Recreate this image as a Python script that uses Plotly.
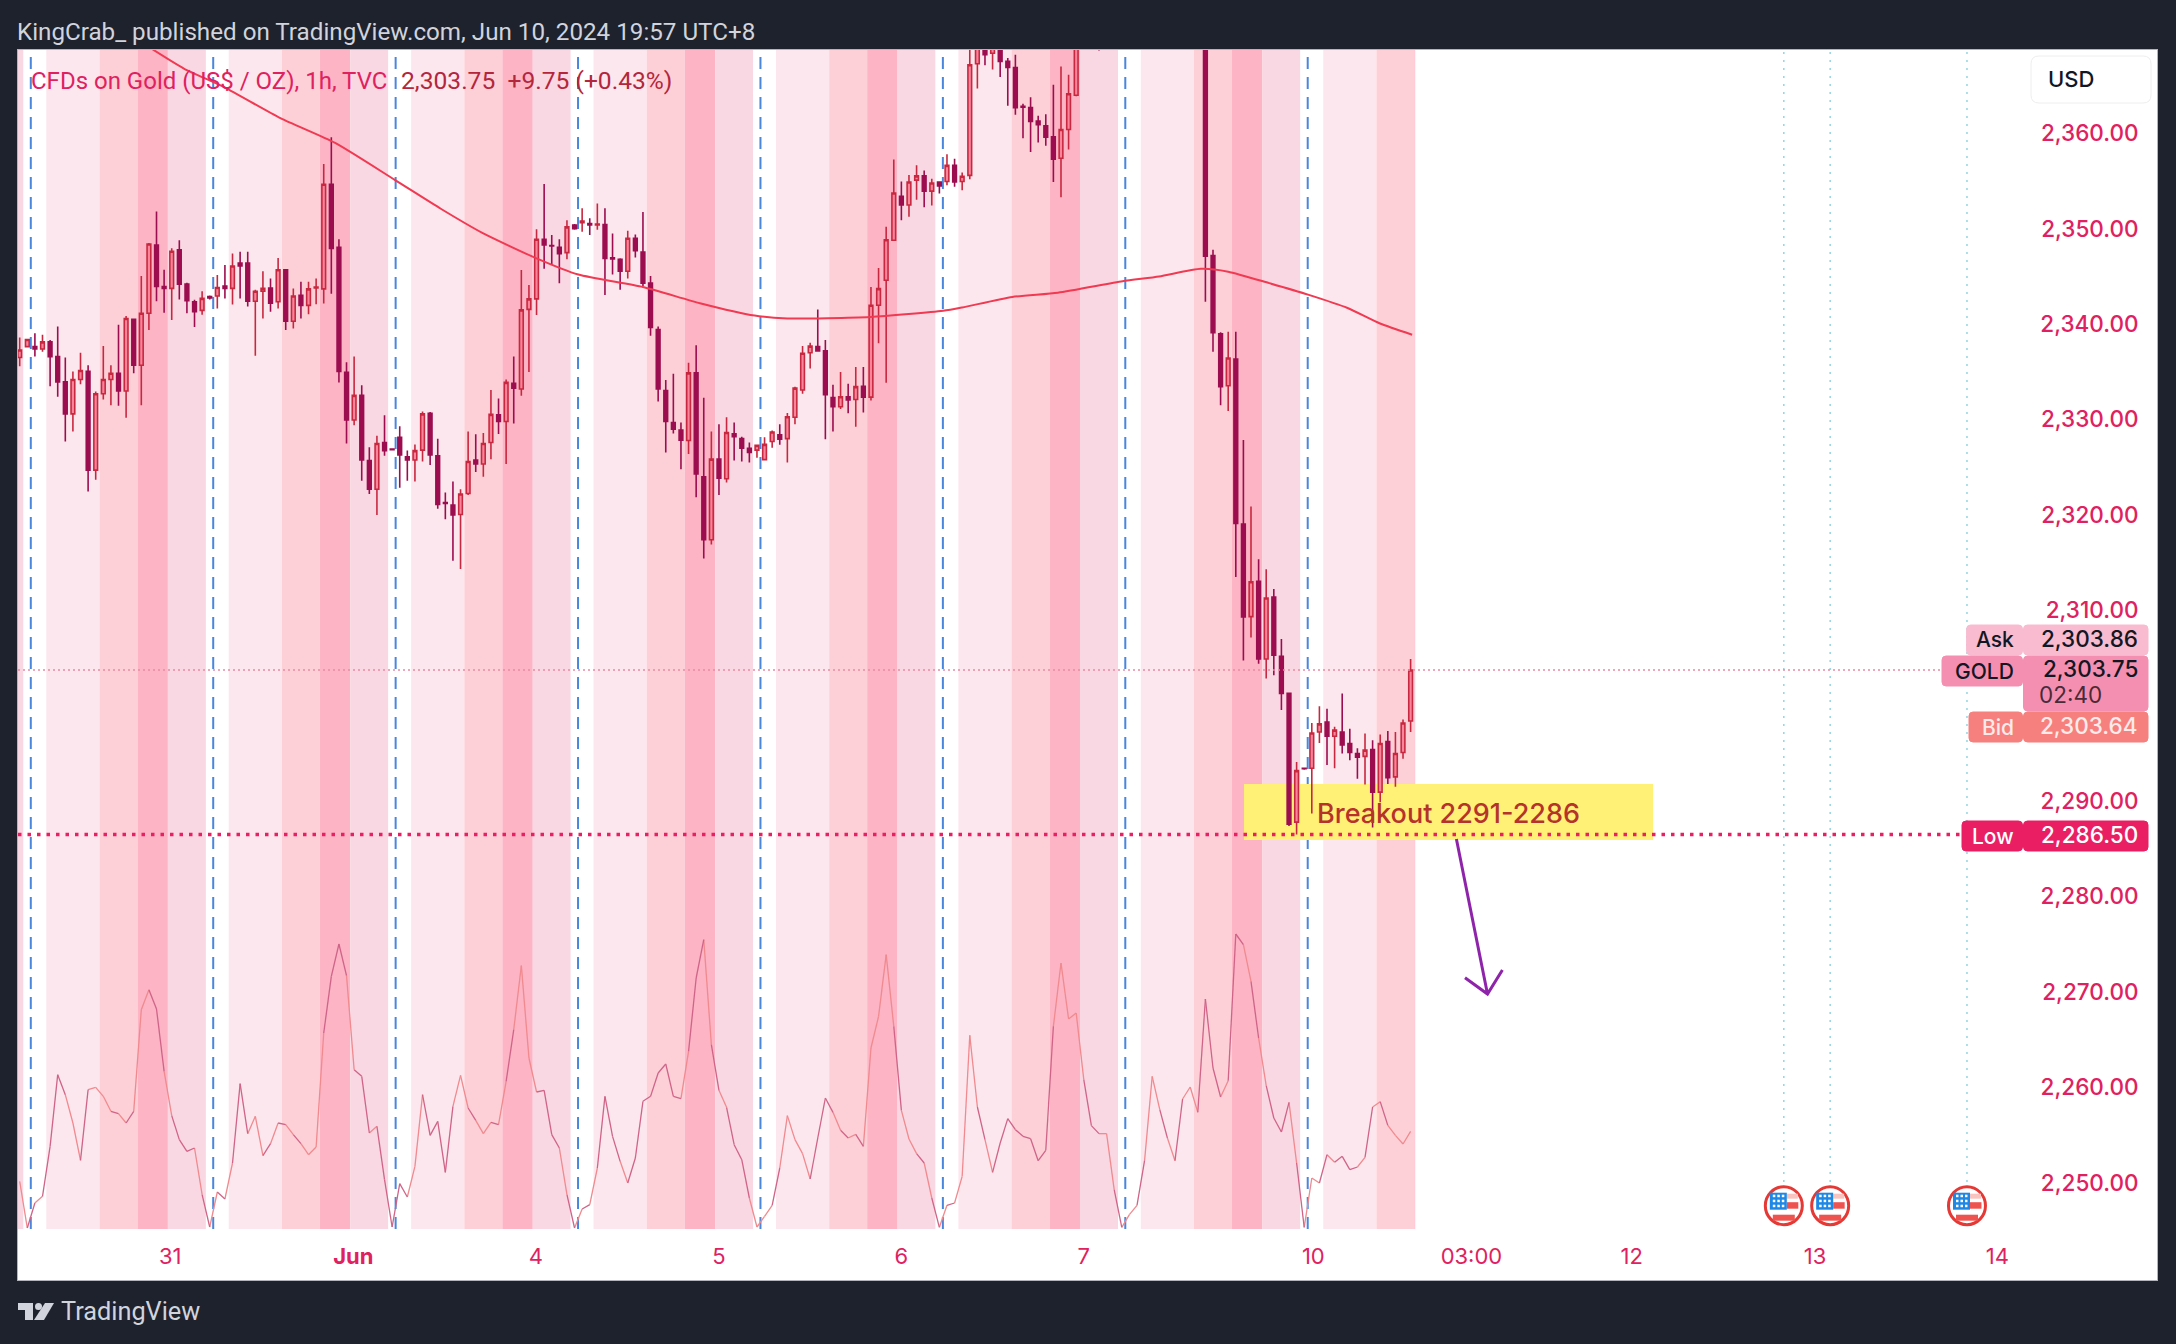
import plotly.graph_objects as go

opens = [2336.5,2337.65,2337.65,2337.4,2338.15,2336.6,2333.95,2330.6,2334.2,2335.05,
2324.7,2332.7,2334.2,2334.85,2333,2340.5,2335.7,2341.15,2348.3,2343.95,
2343.75,2347.8,2344.2,2342.35,2341.45,2342.9,2342.95,2344,2343.75,2346.4,
2346.4,2342.4,2343.45,2343.8,2342.35,2345.7,2340.3,2343.02,2341.97,2343.8,
2343.7,2354.66,2348.05,2334.95,2329.95,2332.54,2325.7,2322.7,2327.6,2326.9,
2328.15,2326.1,2325.76,2326.8,2330.65,2326.2,2321.3,2321.05,2320.05,2322.25,
2325.76,2325.35,2327.6,2330.5,2329.8,2333.8,2333.2,2341.55,2342.65,2348.9,
2348.25,2348.05,2347.5,2350.4,2350.65,2350.55,2350.4,2350.45,2346.95,2346.8,
2345.55,2349,2347.55,2344.3,2339.45,2333.05,2329.7,2328.9,2327.8,2334.9,
2324,2317.4,2325.85,2323.8,2328.5,2328,2327,2326.8,2325.8,2327.7,
2328.4,2328,2330.25,2333.1,2337,2337.65,2337.2,2332.3,2331.35,2332.4,
2332.1,2333.5,2332.35,2341.98,2344.6,2348.8,2353.4,2352.5,2355.1,2355.55,
2353.95,2354.9,2354.95,2356.65,2354.95,2355.6,2367.3,2369.5,2368.4,2369.3,
2367.55,2366.9,2362.85,2362.7,2361.3,2360.8,2359.65,2357.4,2360.4,2364,
2372,2376,2374,2372,2375,2378,2376,2380,2381,2379,
2383,2386,2385,2387,2382,2384,2386,2347.2,2339,2333.55,
2336.35,2319.05,2309.35,2313.05,2304.9,2311.4,2305.2,2301.3,2287.8,2293.45,
2293.45,2297.25,2298.3,2296.8,2297.25,2296.05,2295,2294.7,2295.4,2290.95,
2296.25,2292.55,2295.1,2298.4]
highs = [2338.6,2338.4,2339.05,2338.9,2338.35,2339.75,2336.5,2335.05,2337,2335.7,
2332.95,2337.7,2335.7,2339.95,2340.85,2340.6,2345.05,2348.5,2351.8,2345.7,
2347.95,2348.8,2344.35,2342.55,2343.45,2343,2345.15,2346.2,2347.4,2347.6,
2347.6,2343.6,2345.55,2344.8,2346.95,2345.75,2343.75,2344.45,2344.45,2344.8,
2356.8,2359.6,2348.9,2336,2336.6,2333.6,2327.1,2328.3,2330.45,2326.95,
2329.3,2326.75,2327.4,2330.85,2330.8,2328,2322.35,2323.5,2322.7,2328.75,
2328.45,2328.6,2333.1,2332.2,2334.2,2336.6,2345.68,2344.1,2349.95,2354.7,
2349.35,2348.9,2350.9,2350.5,2352.15,2351.1,2352.65,2352.15,2349.5,2346.9,
2349.8,2349.4,2351.75,2345.05,2339.75,2334.15,2334.8,2329.7,2335.95,2337.8,
2332.3,2328.75,2329.5,2330.25,2329.7,2328.2,2327.6,2327.35,2328.15,2328.85,
2329.5,2330.7,2333.45,2337.7,2338.05,2341.55,2338.35,2333.65,2335,2333.75,
2335.5,2335.5,2343.9,2345.9,2350.2,2357.25,2354.95,2355.65,2356.65,2356.1,
2355.25,2354.95,2357.8,2357.35,2355.9,2371,2372,2371,2371,2370,
2367.9,2368.25,2363.1,2363.8,2361.85,2362,2365.1,2367,2366.15,2372,
2378,2378,2375,2376,2379,2379,2381,2382,2382,2384,
2387,2387,2388,2388,2385,2387,2388,2347.8,2339.15,2339.2,
2339.2,2327.85,2320.9,2315.35,2314.3,2312.25,2307,2301.3,2294.1,2293.5,
2298.2,2299.95,2299.7,2297.8,2301.3,2297.6,2295.55,2297.1,2296.4,2297,
2297.35,2297.25,2298.55,2304.9]
lows = [2335.6,2337.65,2336.6,2337.1,2333.5,2332.4,2327.7,2328.75,2333.7,2322.45,
2323.7,2332.1,2331.5,2331.45,2330.2,2334.85,2331.5,2339.4,2342.4,2341.2,
2340.45,2342.6,2341.15,2339.7,2341,2342.6,2341.65,2342.7,2342.05,2342.7,
2341.85,2336.7,2340.6,2341.3,2341.65,2339.4,2339.55,2340.6,2341.05,2342.1,
2342.18,2343.2,2333.9,2327.5,2329.4,2323.6,2322.2,2320,2326.2,2326.8,
2322.85,2323.6,2323.5,2325.6,2325.25,2320.65,2319.55,2315.2,2314.35,2322.1,
2324.5,2324,2325.85,2328.5,2325.35,2329.6,2332.5,2335,2340.95,2345.8,
2346.2,2344.3,2346.8,2349.9,2349.7,2349.35,2349.9,2343.05,2345.2,2343.6,
2344.8,2347,2344,2338.8,2331.9,2326.55,2328.55,2324.8,2326.4,2321.85,
2315.45,2316.9,2322.1,2323.4,2325.7,2325.6,2325.5,2326,2325.7,2327.05,
2327.35,2325.5,2329.5,2332.7,2335.35,2337.1,2327.95,2328.75,2331.1,2330.66,
2329.25,2330.75,2332,2338,2333.85,2348.8,2350.9,2351.25,2353.05,2352.25,
2352.45,2353.7,2354.55,2354.4,2354.05,2355.2,2364.7,2367.15,2366.7,2365.9,
2362.9,2361.96,2359.5,2358.05,2359.05,2358.7,2354.9,2353.3,2358.3,2363.9,
2371,2372,2368.7,2371,2374,2375,2375,2379,2380,2378,
2382,2384,2384,2381,2381,2383,2342.35,2337.1,2331.5,2330.9,
2313.5,2304.75,2307.15,2304.4,2302.85,2303.2,2299.55,2287.4,2286.5,2293.3,
2288.7,2296.1,2293.8,2293.45,2295,2294.3,2292.35,2291.75,2287.25,2289.9,
2291.8,2291.5,2294.45,2297.25]
closes = [2337.3,2338.4,2337.4,2338.15,2336.6,2333.95,2330.6,2334.2,2335.15,2324.7,
2332.7,2334.2,2334.85,2333,2340.6,2335.7,2341.15,2348.4,2343.95,2343.75,
2347.65,2344.2,2342.45,2341.3,2342.7,2342.75,2343.85,2343.75,2346.1,2346.1,
2342.4,2343.45,2343.75,2342.2,2345.7,2340.3,2342.95,2341.97,2343.7,2343.9,
2354.66,2347.95,2335.05,2329.95,2332.54,2325.76,2322.7,2327.5,2326.75,2326.85,
2326.3,2325.76,2326.75,2330.6,2326.3,2321.1,2321.2,2320,2322.2,2325.6,
2325.35,2327.5,2330.55,2329.8,2333.9,2333.3,2341.5,2342.65,2348.9,2348.3,
2348.2,2347.4,2350.2,2350,2350.8,2350.4,2350.5,2346.9,2346.85,2345.55,
2349,2347.7,2344.3,2339.65,2333.2,2329.8,2329,2327.85,2334.9,2324.3,
2317.4,2325.85,2323.85,2328.65,2328.2,2327,2326.55,2327.3,2327.4,2328.7,
2327.95,2330.3,2333.3,2336.95,2337.7,2337.2,2332.6,2331.35,2332.4,2332.05,
2333.45,2332.35,2341.98,2343.73,2348.85,2353.75,2352.5,2354.9,2355.55,2353.95,
2354.8,2354.5,2356.65,2354.9,2355.5,2367.2,2370,2368.25,2369.5,2367.55,
2366.9,2362.7,2362.75,2361.25,2360.9,2359.6,2357.3,2360.4,2364.15,2370,
2376,2374,2372,2375,2378,2376,2380,2381,2379,2383,
2386,2385,2387,2382,2384,2386,2347.13,2339.1,2333.45,2336.45,
2319.1,2309.3,2313,2304.9,2311.3,2305.3,2301.3,2287.6,2293.2,2293.4,
2297.15,2298.1,2296.8,2297.45,2295.9,2295.1,2294.6,2295.35,2290.95,2296.05,
2292.45,2295,2298.2,2303.75]
oscillator = [143,3,78,98,248,463,403,318,206,418,
425,398,353,346,318,353,658,718,660,473,
340,268,233,243,103,6,111,90,198,436,
286,338,220,256,318,313,283,256,223,246,
588,758,855,760,478,458,288,308,148,6,
136,96,188,403,281,323,170,368,461,363,
326,286,320,313,443,598,790,513,411,416,
283,243,103,3,60,73,183,398,278,203,
138,213,383,398,468,495,398,391,533,753,
868,553,416,365,253,208,93,6,38,71,
183,340,268,226,150,273,393,350,296,273,
284,248,543,638,823,608,356,270,226,198,
93,5,71,78,158,581,366,268,170,258,
331,298,278,271,205,236,608,798,630,648,
448,310,286,286,118,5,43,71,206,458,
358,273,205,390,426,350,690,483,396,445,
885,853,743,573,430,333,291,380,198,5,
153,138,223,200,218,178,186,215,366,382,
311,281,255,293]
ma_index = [17.5,21.6,27,34.3,41.5,49.4,55.4,60.8,68,73.5,82,89.5,96.7,101,111.9,121.5,124,130.6,136.6,145.1,149.9,155.4,159,164.4,169.5,174.7,178.9,183.2]
ma_values = [2368.8,2366.8,2364.8,2361.6,2359,2355.1,2352.1,2349.6,2346.9,2345.2,2343.9,2342.2,2340.9,2340.6,2340.75,2341.4,2341.75,2342.85,2343.3,2344.5,2345,2345.8,2345.5,2344.3,2343.1,2341.7,2340.1,2338.9]
day_starts = [0.5,24.5,48.5,72.5,96.5,120.5,144.5,168.5]
band_offsets = [3,10,15,19,24]
band_colors = ["#ffffff","#fde7ee","#fdd0d8","#fdb4c5","#fad8e3"]
session_lines = [1.46,25.46,49.46,73.46,97.46,121.46,145.46,169.46]
event_x = [232.1,238.2,256.2]
x_ticks = [19.8,43.9,67.9,92,116,140,170.2,191,212.1,236.2,260.2]
x_labels = ["31","<b>Jun</b>","4","5","6","7","10","03:00","12","13","14"]
y_ticks = [2250,2260,2270,2280,2290,2310,2320,2330,2340,2350,2360]
last_price = 2303.75
low_price = 2286.5
bars = list(range(len(opens)))

BG = "#1e222d"
PINK = "#e0215f"
FONT = "Inter"
L, R, T, B = 18, 2157, 50, 1280
fx = lambda x: (x - L) / (R - L)
fy = lambda y: (B - y) / (B - T)

def rrect(x0, y0, x1, y1, fill, r=4, line=None):
    p = (f"M {fx(x0+r)} {fy(y0)} L {fx(x1-r)} {fy(y0)} Q {fx(x1)} {fy(y0)} {fx(x1)} {fy(y0+r)} "
         f"L {fx(x1)} {fy(y1-r)} Q {fx(x1)} {fy(y1)} {fx(x1-r)} {fy(y1)} L {fx(x0+r)} {fy(y1)} "
         f"Q {fx(x0)} {fy(y1)} {fx(x0)} {fy(y1-r)} L {fx(x0)} {fy(y0+r)} Q {fx(x0)} {fy(y0)} {fx(x0+r)} {fy(y0)} Z")
    return dict(type="path", path=p, xref="paper", yref="paper", fillcolor=fill,
                line=dict(color=line or fill, width=1), layer="above")

shapes = []
band_bottom = fy(1229)
shapes.append(dict(type="rect", xref="x", yref="paper", x0=-0.224, x1=0.5, y0=band_bottom, y1=1,
                   fillcolor=band_colors[4], line_width=0, layer="below"))
for d in day_starts:
    prev = d
    for off, col in zip(band_offsets, band_colors):
        end = d + off
        if prev >= 183.6:
            break
        shapes.append(dict(type="rect", xref="x", yref="paper", x0=prev, x1=min(end, 183.6),
                           y0=band_bottom, y1=1, fillcolor=col, line_width=0, layer="below"))
        prev = end
for s in session_lines:
    shapes.append(dict(type="line", xref="x", yref="paper", x0=s, x1=s, y0=band_bottom, y1=1,
                       line=dict(color="#4a86dc", width=2, dash="12px,8px"), layer="below"))
for e in event_x:
    shapes.append(dict(type="line", xref="x", yref="paper", x0=e, x1=e, y0=fy(1182), y1=1,
                       line=dict(color="#93d5e3", width=1.5, dash="2px,6px"), layer="below"))
shapes.append(dict(type="rect", xref="paper", yref="paper", x0=fx(1244), x1=fx(1653), y0=fy(840), y1=fy(784),
                   fillcolor="#fff176", line_width=0, layer="below"))
shapes.append(dict(type="line", xref="paper", yref="y", x0=0, x1=fx(1942), y0=last_price, y1=last_price,
                   line=dict(color="#e98aa2", width=1.5, dash="2px,3px"), layer="above"))
shapes.append(dict(type="line", xref="paper", yref="y", x0=0, x1=fx(1962), y0=low_price, y1=low_price,
                   line=dict(color="#e91e63", width=3.5, dash="3.5px,6px"), layer="above"))
arrow = (f"M {fx(1456.4)} {fy(839)} L {fx(1487.5)} {fy(994)} M {fx(1465)} {fy(977.7)} "
         f"L {fx(1487.5)} {fy(994)} L {fx(1502.4)} {fy(970)}")
shapes.append(dict(type="path", path=arrow, xref="paper", yref="paper",
                   line=dict(color="#8e24aa", width=3), layer="above"))
shapes += [
    rrect(1966.6, 625, 2022.5, 655, "#f8bbd0"),
    rrect(2023.5, 625, 2148, 655, "#f8bbd0"),
    rrect(1942, 656, 2022.5, 686, "#f48fb1"),
    rrect(2023.5, 656, 2148, 711, "#f48fb1"),
    rrect(1969, 712, 2022.5, 742, "#f6807d"),
    rrect(2023.5, 712, 2148, 742, "#f6807d"),
    rrect(1962, 821, 2022.5, 851, "#e91e63"),
    rrect(2023.5, 821, 2148, 851, "#e91e63"),
    rrect(2031, 56, 2151, 103, "#ffffff", r=8, line="#eeeeee"),
]
ya = fy(1205.7)
def flag(e, typ, x0, x1, y0, y1, fill, line=None, lw=0):
    return dict(type=typ, xref="x", yref="paper", xsizemode="pixel", ysizemode="pixel", xanchor=e, yanchor=ya,
                x0=x0, x1=x1, y0=y0, y1=y1, fillcolor=fill, line=dict(color=line or fill, width=lw), layer="above")
for e in event_x:
    shapes.append(flag(e, "circle", -18.5, 18.5, -19, 19, "#ffffff", "#e53935", 3))
    shapes.append(flag(e, "rect", 3, 14, 7, 12, "#f9c4c0"))
    shapes.append(flag(e, "rect", 3, 14.5, -3, 3.5, "#ef5350"))
    shapes.append(flag(e, "rect", -11, 11, -15, -9, "#ef5350"))
    shapes.append(flag(e, "rect", -14, 3, -4, 13, "#1e88e5"))
    for dx in (-11, -6.5, -2):
        for dy in (-1.5, 3.5, 8.5):
            shapes.append(flag(e, "rect", dx, dx + 2.5, dy, dy + 2.5, "#ffffff"))
shapes += [
    dict(type="path", xref="paper", yref="paper", fillcolor="#d1d4dc", line_width=0, layer="above",
         path=f"M {fx(18)} {fy(1303)} L {fx(33)} {fy(1303)} L {fx(33)} {fy(1320)} L {fx(25)} {fy(1320)} L {fx(25)} {fy(1310)} L {fx(18)} {fy(1310)} Z"),
    dict(type="circle", xref="paper", yref="paper", x0=fx(35), x1=fx(42), y0=fy(1310), y1=fy(1303),
         fillcolor="#d1d4dc", line_width=0, layer="above"),
    dict(type="path", xref="paper", yref="paper", fillcolor="#d1d4dc", line_width=0, layer="above",
         path=f"M {fx(45)} {fy(1303)} L {fx(54)} {fy(1303)} L {fx(44)} {fy(1320)} L {fx(34)} {fy(1320)} Z"),
]

def text(x, y, s, color, size=21, anchor="left", family=FONT, weight=400):
    return dict(x=fx(x), y=fy(y), xref="paper", yref="paper", text=s, showarrow=False, xanchor=anchor,
                yanchor="middle", font=dict(family=family, size=size, color=color, weight=weight), align=anchor,
                borderpad=0, borderwidth=0)

annotations = [
    text(17, 32, "KingCrab_ published on TradingView.com, Jun 10, 2024 19:57 UTC+8", "#d1d4dc", 24.2, family="Roboto"),
    text(61, 1311, "TradingView", "#d1d4dc", 25.3, family="Roboto"),
    text(31, 81, "CFDs on Gold (US$ / OZ), 1h, TVC", "#e0215f", 24, family="Roboto"),
    text(401, 81, "2,303.75&nbsp;&nbsp;+9.75 (+0.43%)", "#b3263c", 24.6, family="Roboto"),
    text(1317, 813, "Breakout 2291-2286", "#b5332a", 27, weight=500),
    text(2071, 79, "USD", "#131722", 22, "center", weight=500),
    text(2014, 640, "Ask", "#131722", 21, "right", weight=500),
    text(2014, 671, "GOLD", "#131722", 21, "right", weight=500),
    text(2014, 727, "Bid", "#fdeaea", 21, "right", weight=500),
    text(2014, 836, "Low", "#ffffff", 21, "right", weight=500),
    text(2138, 638, "2,303.86", "#131722", 22.5, "right", weight=500),
    text(2138, 669, "2,303.75", "#131722", 22.5, "right", weight=500),
    text(2039, 694, "02:40", "#4a2a36", 22.5),
    text(2138, 725, "2,303.64", "#fdeaea", 22.5, "right", weight=500),
    text(2138, 834, "2,286.50", "#ffffff", 22.5, "right", weight=500),
]

dark_x, dark_y, light_x, light_y = [], [], [], []
for i in range(1, len(bars)):
    xs, ys = (dark_x, dark_y) if closes[i] < opens[i] else (light_x, light_y)
    xs += [bars[i-1], bars[i], None]
    ys += [oscillator[i-1], oscillator[i], None]

fig = go.Figure()
fig.add_trace(go.Scatter(x=ma_index, y=ma_values, mode="lines", line=dict(color="#ef3a52", width=2, shape="spline", smoothing=0.6),
                         hoverinfo="skip", showlegend=False))
fig.add_trace(go.Candlestick(x=bars, open=opens, high=highs, low=lows, close=closes, showlegend=False,
                             whiskerwidth=0,
                             increasing=dict(fillcolor="#f9859c", line=dict(color="#c8283f", width=1.6)),
                             decreasing=dict(fillcolor="#9c0d4f", line=dict(color="#9c0d4f", width=1.6))))
fig.add_trace(go.Scatter(x=light_x, y=light_y, yaxis="y2", mode="lines", line=dict(color="#f08a8e", width=1.3),
                         hoverinfo="skip", showlegend=False, connectgaps=False))
fig.add_trace(go.Scatter(x=dark_x, y=dark_y, yaxis="y2", mode="lines", line=dict(color="#cf6488", width=1.3),
                         hoverinfo="skip", showlegend=False, connectgaps=False))

fig.update_layout(
    width=2176, height=1344, autosize=False,
    margin=dict(l=L, r=2176 - R, t=T, b=1344 - B),
    paper_bgcolor=BG, plot_bgcolor="#ffffff",
    xaxis=dict(range=[-0.224, 281.2], rangeslider=dict(visible=False), showgrid=False, zeroline=False,
               tickmode="array", tickvals=x_ticks, ticktext=x_labels,
               ticks="inside", ticklen=13, tickcolor="rgba(0,0,0,0)", ticklabelposition="inside",
               tickfont=dict(family=FONT, size=22, color=PINK),
               showline=True, linecolor="#b2b5be", linewidth=1, mirror=True),
    yaxis=dict(range=[2239.81, 2368.74], side="right", showgrid=False, zeroline=False,
               tickmode="array", tickvals=y_ticks, ticktext=[f"{v:,.2f}" for v in y_ticks],
               ticks="inside", ticklen=20, tickcolor="rgba(0,0,0,0)", ticklabelposition="inside",
               tickfont=dict(family=FONT, size=22.5, color=PINK, weight=500),
               showline=True, linecolor="#b2b5be", linewidth=1, mirror=True),
    yaxis2=dict(range=[-153, 3537], overlaying="y", side="left", visible=False),
    shapes=shapes, annotations=annotations,
)
fig.write_html("out.html", config=dict(displayModeBar=False),
               post_script="document.body.style.margin='0';document.body.style.background='#1e222d';")
